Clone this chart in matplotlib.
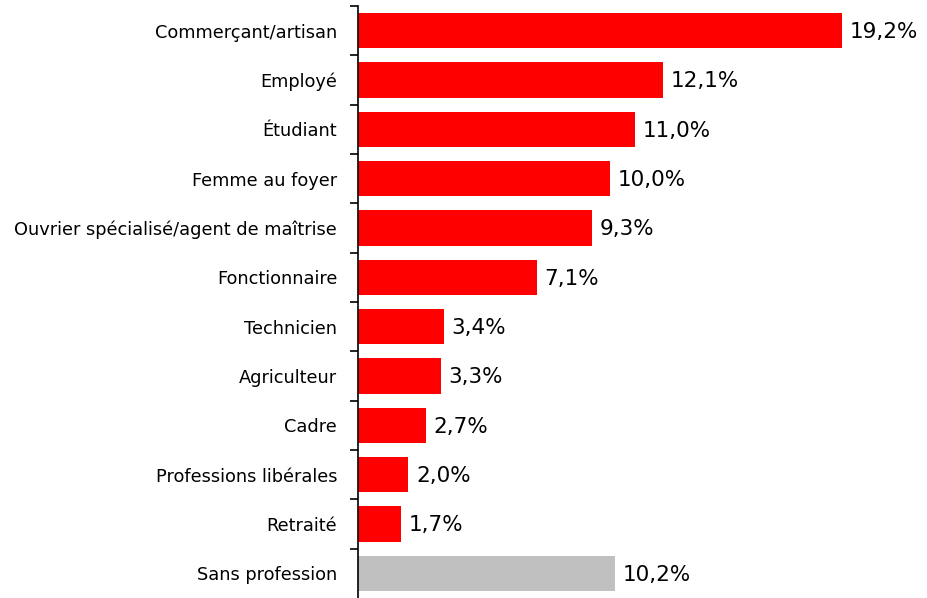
import matplotlib
matplotlib.use("Agg")
import matplotlib.pyplot as plt
import numpy as np

categories = ["Commerçant/artisan", "Employé", "Étudiant", "Femme au foyer",
              "Ouvrier spécialisé/agent de maîtrise", "Fonctionnaire", "Technicien",
              "Agriculteur", "Cadre", "Professions libérales", "Retraité", "Sans profession"]
values = [19.2, 12.1, 11.0, 10.0, 9.3, 7.1, 3.4, 3.3, 2.7, 2.0, 1.7, 10.2]
value_labels = ["19,2%", "12,1%", "11,0%", "10,0%", "9,3%", "7,1%", "3,4%",
                "3,3%", "2,7%", "2,0%", "1,7%", "10,2%"]
colors = ["#FF0000"] * 11 + ["#C0C0C0"]

W, H = 928, 598
fig = plt.figure(figsize=(W / 100, H / 100), dpi=100)
left = 358 / W
right = (358 + 22 * 25.2) / W
ax = fig.add_axes([left, 0.0, right - left, (598 - 6) / H])

y = np.arange(len(categories))
ax.barh(y, values, height=0.71, color=colors, edgecolor="none")
ax.set_ylim(len(categories) - 0.5, -0.5)
ax.set_xlim(0, 22)

for yi, v, lab in zip(y, values, value_labels):
    ax.text(v + 0.3, yi + 0.03, lab, va="center", ha="left", fontsize=15.5, color="black")

for s in ["top", "right", "bottom"]:
    ax.spines[s].set_visible(False)
ax.spines["left"].set_linewidth(1.2)
ax.spines["left"].set_color("black")
ax.set_xticks([])
ax.set_yticks(y)
ax.set_yticklabels(categories, fontsize=12.8)
ax.tick_params(axis="y", which="major", length=0, pad=15)
ax.set_yticks(np.arange(-0.5, len(categories) - 0.5, 1.0), minor=True)
ax.tick_params(axis="y", which="minor", length=6, width=1.2, direction="out")

fig.savefig("out.png", dpi=100)
